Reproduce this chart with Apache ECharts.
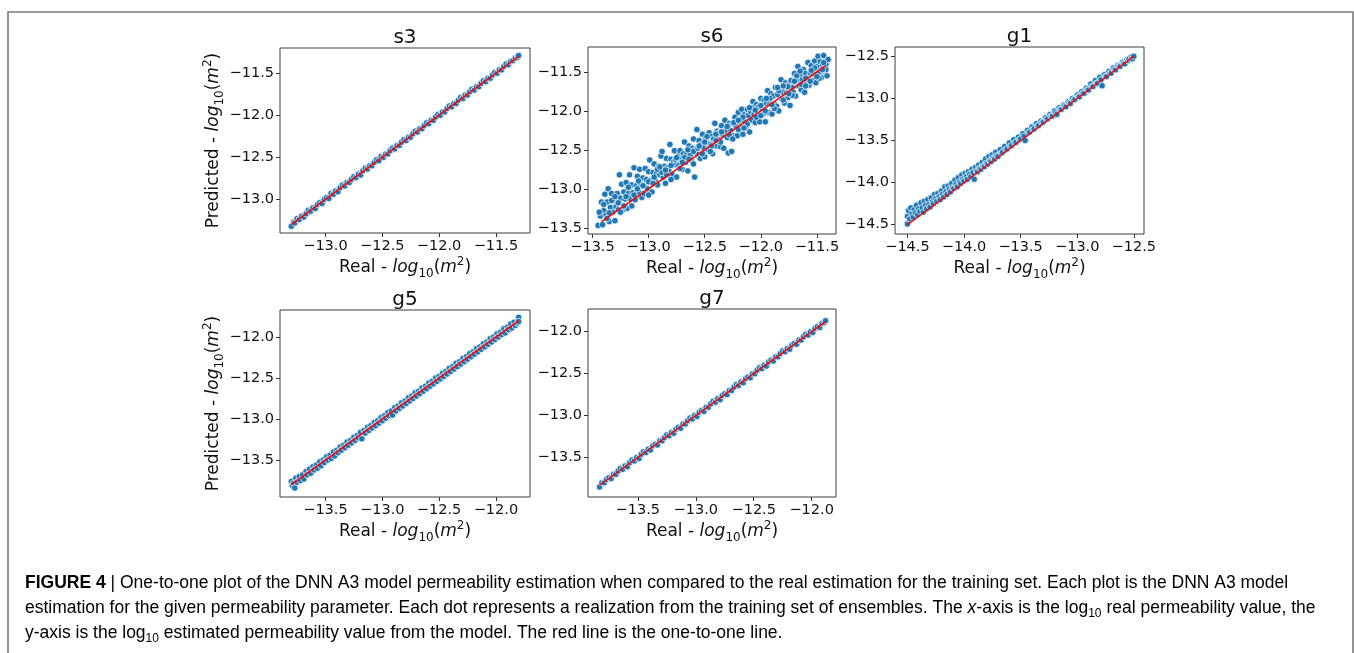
<!DOCTYPE html>
<html><head><meta charset="utf-8">
<script src="https://cdn.jsdelivr.net/npm/echarts@6/dist/echarts.min.js"></script>
<style>html,body{margin:0;padding:0;background:#fff}#c{width:1354px;height:653px}</style>
</head><body><div id="c"></div>
<script>
// ---------------- DATA ----------------
const panelNames = ['s3', 's6', 'g1', 'g5', 'g7'];

// [real, predicted] pairs, log10(m^2)
const s3Points = [[-13.30,-13.32],[-13.28,-13.27],[-13.27,-13.28],[-13.25,-13.23],[-13.23,-13.24],[-13.21,-13.20],[-13.19,-13.21],[-13.17,-13.17],[-13.15,-13.13],[-13.13,-13.14],[-13.11,-13.10],[-13.09,-13.11],[-13.07,-13.06],[-13.05,-13.04],[-13.03,-13.05],[-13.01,-13.00],[-12.99,-12.98],[-12.97,-12.99],[-12.95,-12.93],[-12.93,-12.94],[-12.91,-12.90],[-12.89,-12.91],[-12.87,-12.86],[-12.85,-12.83],[-12.83,-12.84],[-12.81,-12.80],[-12.79,-12.80],[-12.77,-12.76],[-12.75,-12.73],[-12.73,-12.74],[-12.71,-12.70],[-12.69,-12.71],[-12.67,-12.66],[-12.65,-12.63],[-12.63,-12.64],[-12.61,-12.60],[-12.59,-12.60],[-12.57,-12.56],[-12.55,-12.53],[-12.53,-12.54],[-12.51,-12.49],[-12.49,-12.50],[-12.47,-12.46],[-12.45,-12.46],[-12.43,-12.42],[-12.41,-12.39],[-12.39,-12.40],[-12.37,-12.36],[-12.35,-12.36],[-12.33,-12.32],[-12.31,-12.29],[-12.29,-12.30],[-12.27,-12.26],[-12.25,-12.26],[-12.23,-12.22],[-12.21,-12.19],[-12.19,-12.20],[-12.17,-12.16],[-12.15,-12.16],[-12.13,-12.12],[-12.11,-12.09],[-12.09,-12.10],[-12.07,-12.06],[-12.05,-12.06],[-12.03,-12.02],[-12.01,-11.99],[-11.99,-12.00],[-11.97,-11.96],[-11.95,-11.96],[-11.93,-11.92],[-11.91,-11.89],[-11.89,-11.90],[-11.87,-11.86],[-11.85,-11.86],[-11.83,-11.82],[-11.81,-11.79],[-11.79,-11.80],[-11.77,-11.76],[-11.75,-11.76],[-11.73,-11.72],[-11.71,-11.69],[-11.69,-11.70],[-11.67,-11.66],[-11.65,-11.66],[-11.63,-11.62],[-11.61,-11.59],[-11.59,-11.60],[-11.57,-11.56],[-11.55,-11.56],[-11.53,-11.52],[-11.51,-11.49],[-11.49,-11.50],[-11.47,-11.46],[-11.45,-11.46],[-11.43,-11.42],[-11.41,-11.39],[-11.39,-11.40],[-11.37,-11.36],[-11.35,-11.35],[-11.33,-11.32],[-11.31,-11.31],[-11.30,-11.29]];

const s6Points = [[-13.45,-13.47],[-13.43,-13.35],[-13.42,-13.17],[-13.41,-13.46],[-13.40,-13.28],[-13.39,-13.07],[-13.38,-13.34],[-13.37,-13.17],[-13.36,-13.00],[-13.35,-13.42],[-13.34,-13.24],[-13.33,-13.06],[-13.32,-13.30],[-13.31,-13.15],[-13.30,-13.41],[-13.29,-13.23],[-13.28,-13.06],[-13.27,-13.27],[-13.26,-12.82],[-13.25,-13.12],[-13.24,-12.94],[-13.23,-13.27],[-13.22,-13.04],[-13.21,-13.13],[-13.20,-12.92],[-13.19,-13.25],[-13.18,-13.06],[-13.17,-12.82],[-13.16,-13.13],[-13.15,-12.95],[-13.14,-13.05],[-13.13,-12.73],[-13.12,-13.14],[-13.11,-12.96],[-13.10,-12.84],[-13.09,-13.04],[-13.08,-12.75],[-13.07,-12.96],[-13.06,-13.11],[-13.05,-12.86],[-13.04,-12.97],[-13.03,-12.74],[-13.02,-12.88],[-13.01,-13.00],[-13.00,-12.78],[-12.99,-12.63],[-12.98,-12.89],[-12.97,-13.04],[-12.96,-12.79],[-12.95,-12.68],[-12.94,-12.90],[-12.93,-12.80],[-12.92,-12.95],[-12.91,-12.71],[-12.90,-12.82],[-12.89,-12.58],[-12.88,-12.52],[-12.87,-12.85],[-12.86,-12.71],[-12.85,-12.93],[-12.84,-12.61],[-12.83,-12.73],[-12.82,-12.77],[-12.81,-12.43],[-12.80,-12.62],[-12.79,-12.82],[-12.78,-12.66],[-12.77,-12.51],[-12.76,-12.69],[-12.75,-12.85],[-12.74,-12.58],[-12.73,-12.70],[-12.72,-12.51],[-12.71,-12.62],[-12.70,-12.75],[-12.69,-12.55],[-12.68,-12.40],[-12.67,-12.66],[-12.66,-12.55],[-12.65,-12.77],[-12.64,-12.45],[-12.63,-12.57],[-12.62,-12.64],[-12.61,-12.48],[-12.60,-12.36],[-12.59,-12.85],[-12.58,-12.50],[-12.57,-12.24],[-12.56,-12.56],[-12.55,-12.38],[-12.54,-12.61],[-12.53,-12.43],[-12.52,-12.30],[-12.51,-12.47],[-12.50,-12.59],[-12.49,-12.35],[-12.48,-12.41],[-12.47,-12.50],[-12.46,-12.28],[-12.45,-12.43],[-12.44,-12.33],[-12.43,-12.55],[-12.42,-12.36],[-12.41,-12.16],[-12.40,-12.45],[-12.39,-12.26],[-12.38,-12.37],[-12.37,-12.28],[-12.36,-12.46],[-12.35,-12.19],[-12.34,-12.30],[-12.33,-12.48],[-12.32,-12.12],[-12.31,-12.24],[-12.30,-12.34],[-12.29,-12.54],[-12.28,-12.16],[-12.27,-12.25],[-12.26,-12.52],[-12.25,-12.16],[-12.24,-12.32],[-12.23,-12.08],[-12.22,-12.19],[-12.21,-12.32],[-12.20,-12.02],[-12.19,-12.13],[-12.18,-12.21],[-12.17,-11.98],[-12.16,-12.30],[-12.15,-12.05],[-12.14,-12.14],[-12.13,-12.20],[-12.12,-11.98],[-12.11,-12.06],[-12.10,-12.27],[-12.09,-12.01],[-12.08,-12.12],[-12.07,-11.88],[-12.06,-12.04],[-12.05,-12.15],[-12.04,-11.92],[-12.03,-12.05],[-12.02,-11.95],[-12.01,-12.14],[-12.00,-11.84],[-11.99,-11.96],[-11.98,-12.04],[-11.97,-11.86],[-11.96,-12.14],[-11.95,-11.90],[-11.94,-11.74],[-11.93,-12.02],[-11.92,-11.91],[-11.91,-11.78],[-11.90,-12.04],[-11.89,-11.81],[-11.88,-11.91],[-11.87,-11.70],[-11.86,-11.94],[-11.85,-11.79],[-11.84,-12.00],[-11.83,-11.73],[-11.82,-11.60],[-11.81,-11.85],[-11.80,-11.76],[-11.79,-11.90],[-11.78,-11.64],[-11.77,-11.77],[-11.76,-11.83],[-11.75,-11.66],[-11.74,-11.93],[-11.73,-11.61],[-11.72,-11.70],[-11.71,-11.76],[-11.70,-11.52],[-11.69,-11.81],[-11.68,-11.62],[-11.67,-11.43],[-11.66,-11.68],[-11.65,-11.55],[-11.64,-11.73],[-11.63,-11.60],[-11.62,-11.47],[-11.61,-11.76],[-11.60,-11.52],[-11.59,-11.63],[-11.58,-11.38],[-11.57,-11.67],[-11.56,-11.51],[-11.55,-11.42],[-11.54,-11.61],[-11.53,-11.52],[-11.52,-11.36],[-11.51,-11.64],[-11.50,-11.43],[-11.49,-11.30],[-11.48,-11.51],[-11.47,-11.37],[-11.46,-11.57],[-11.45,-11.41],[-11.44,-11.29],[-11.43,-11.49],[-11.42,-11.40],[-11.41,-11.55],[-11.40,-11.34],
[-13.44,-13.30],[-13.37,-13.38],[-13.33,-13.15],[-13.27,-13.18],[-13.22,-13.22],[-13.18,-12.98],[-13.13,-13.08],[-13.09,-12.90],[-13.04,-13.06],[-13.00,-12.91],[-12.96,-12.93],[-12.92,-12.75],[-12.88,-12.79],[-12.84,-12.82],[-12.80,-12.70],[-12.76,-12.62],[-12.72,-12.74],[-12.68,-12.60],[-12.64,-12.62],[-12.60,-12.52],[-12.56,-12.48],[-12.52,-12.55],[-12.48,-12.33],[-12.44,-12.45],[-12.40,-12.30],[-12.36,-12.40],[-12.32,-12.26],[-12.28,-12.31],[-12.24,-12.15],[-12.20,-12.24],[-12.16,-12.08],[-12.12,-12.17],[-12.08,-11.96],[-12.04,-12.08],[-12.00,-11.93],[-11.96,-12.00],[-11.92,-11.84],[-11.88,-11.97],[-11.84,-11.74],[-11.80,-11.86],[-11.76,-11.69],[-11.72,-11.80],[-11.68,-11.55],[-11.64,-11.66],[-11.60,-11.58],[-11.56,-11.62],[-11.52,-11.45],[-11.48,-11.58],[-11.44,-11.38],[-11.42,-11.47],
[-13.40,-13.20],[-13.35,-13.31],[-13.30,-13.10],[-13.25,-13.30],[-13.20,-13.10],[-13.15,-13.22],[-13.10,-13.00],[-13.05,-12.96],[-13.00,-13.08],[-12.95,-12.85],[-12.90,-12.72],[-12.85,-12.76],[-12.80,-12.88],[-12.75,-12.60],[-12.70,-12.66],[-12.65,-12.50],[-12.60,-12.68],[-12.55,-12.45],[-12.50,-12.40],[-12.45,-12.52],[-12.40,-12.38],[-12.35,-12.27],[-12.30,-12.20],[-12.25,-12.36],[-12.20,-12.12],[-12.15,-12.22],[-12.10,-11.96],[-12.05,-11.99],[-12.00,-12.06],[-11.95,-11.84],[-11.90,-11.92],[-11.85,-11.70],[-11.80,-11.68],[-11.75,-11.78],[-11.70,-11.62],[-11.65,-11.49],[-11.60,-11.68],[-11.55,-11.48],[-11.50,-11.56],[-11.45,-11.47]];

const g1Points = [[-14.50,-14.49],[-14.50,-14.40],[-14.49,-14.33],[-14.48,-14.43],[-14.47,-14.30],[-14.46,-14.37],[-14.45,-14.41],[-14.44,-14.32],[-14.43,-14.36],[-14.42,-14.27],[-14.41,-14.38],[-14.40,-14.31],[-14.39,-14.34],[-14.38,-14.24],[-14.37,-14.30],[-14.36,-14.35],[-14.35,-14.22],[-14.34,-14.27],[-14.33,-14.31],[-14.32,-14.20],[-14.31,-14.26],[-14.30,-14.29],[-14.29,-14.18],[-14.28,-14.23],[-14.27,-14.25],[-14.26,-14.14],[-14.25,-14.19],[-14.24,-14.22],[-14.23,-14.13],[-14.22,-14.17],[-14.21,-14.20],[-14.20,-14.10],[-14.19,-14.14],[-14.18,-14.17],[-14.17,-14.05],[-14.16,-14.11],[-14.15,-14.14],[-14.14,-14.04],[-14.13,-14.08],[-14.12,-14.11],[-14.11,-14.01],[-14.10,-14.06],[-14.09,-14.07],[-14.08,-13.97],[-14.07,-14.02],[-14.06,-14.05],[-14.05,-13.94],[-14.04,-13.99],[-14.03,-14.01],[-14.02,-13.91],[-14.01,-13.96],[-14.00,-13.98],[-13.99,-13.89],[-13.98,-13.93],[-13.97,-13.96],[-13.96,-13.87],[-13.95,-13.90],[-13.94,-13.93],[-13.93,-13.84],[-13.92,-13.88],[-13.91,-13.96],[-13.90,-13.82],[-13.89,-13.86],[-13.88,-13.87],[-13.87,-13.79],[-13.86,-13.83],[-13.85,-13.84],[-13.84,-13.76],[-13.83,-13.80],[-13.82,-13.81],[-13.81,-13.72],[-13.80,-13.77],[-13.79,-13.78],[-13.78,-13.69],[-13.77,-13.74],[-13.76,-13.75],[-13.75,-13.67],[-13.74,-13.71],[-13.73,-13.72],[-13.72,-13.64],[-13.71,-13.68],[-13.70,-13.69],[-13.68,-13.61],[-13.67,-13.65],[-13.66,-13.64],[-13.64,-13.57],[-13.63,-13.61],[-13.62,-13.60],[-13.60,-13.53],[-13.59,-13.57],[-13.58,-13.56],[-13.56,-13.49],[-13.55,-13.53],[-13.54,-13.52],[-13.52,-13.46],[-13.51,-13.49],[-13.50,-13.48],[-13.48,-13.42],[-13.47,-13.45],[-13.46,-13.50],[-13.44,-13.38],[-13.43,-13.41],[-13.42,-13.40],[-13.40,-13.34],[-13.39,-13.37],[-13.38,-13.36],[-13.36,-13.30],[-13.35,-13.33],[-13.34,-13.32],[-13.32,-13.27],[-13.31,-13.29],[-13.30,-13.28],[-13.28,-13.23],[-13.27,-13.25],[-13.26,-13.24],[-13.24,-13.19],[-13.23,-13.21],[-13.22,-13.21],[-13.20,-13.15],[-13.19,-13.17],[-13.18,-13.19],[-13.16,-13.11],[-13.15,-13.13],[-13.14,-13.13],[-13.12,-13.08],[-13.11,-13.09],[-13.10,-13.10],[-13.08,-13.04],[-13.07,-13.05],[-13.06,-13.06],[-13.04,-13.00],[-13.03,-13.02],[-13.02,-13.01],[-13.00,-12.96],[-12.99,-12.98],[-12.98,-12.98],[-12.96,-12.92],[-12.95,-12.94],[-12.94,-12.94],[-12.92,-12.88],[-12.91,-12.90],[-12.90,-12.90],[-12.88,-12.83],[-12.87,-12.86],[-12.86,-12.86],[-12.84,-12.79],[-12.83,-12.82],[-12.82,-12.82],[-12.80,-12.75],[-12.79,-12.78],[-12.78,-12.85],[-12.76,-12.72],[-12.75,-12.74],[-12.74,-12.74],[-12.72,-12.68],[-12.71,-12.70],[-12.70,-12.70],[-12.68,-12.64],[-12.67,-12.66],[-12.66,-12.66],[-12.64,-12.61],[-12.63,-12.62],[-12.62,-12.62],[-12.60,-12.57],[-12.59,-12.58],[-12.58,-12.59],[-12.56,-12.54],[-12.55,-12.55],[-12.54,-12.53],[-12.52,-12.51],[-12.51,-12.53],[-12.50,-12.50]];

const g5Points = [[-13.80,-13.76],[-13.79,-13.81],[-13.78,-13.78],[-13.77,-13.84],[-13.76,-13.72],[-13.75,-13.77],[-13.73,-13.70],[-13.72,-13.75],[-13.70,-13.68],[-13.69,-13.73],[-13.67,-13.64],[-13.66,-13.68],[-13.64,-13.61],[-13.63,-13.66],[-13.61,-13.58],[-13.60,-13.62],[-13.58,-13.56],[-13.57,-13.60],[-13.55,-13.52],[-13.54,-13.57],[-13.52,-13.50],[-13.51,-13.53],[-13.49,-13.46],[-13.48,-13.50],[-13.46,-13.44],[-13.45,-13.48],[-13.43,-13.40],[-13.42,-13.45],[-13.40,-13.38],[-13.39,-13.41],[-13.37,-13.34],[-13.36,-13.38],[-13.34,-13.32],[-13.33,-13.35],[-13.31,-13.28],[-13.30,-13.32],[-13.28,-13.26],[-13.27,-13.29],[-13.25,-13.22],[-13.24,-13.26],[-13.22,-13.20],[-13.21,-13.23],[-13.19,-13.16],[-13.18,-13.24],[-13.16,-13.14],[-13.15,-13.17],[-13.13,-13.10],[-13.12,-13.14],[-13.10,-13.08],[-13.09,-13.11],[-13.07,-13.04],[-13.06,-13.08],[-13.04,-13.02],[-13.03,-13.05],[-13.01,-12.98],[-13.00,-13.02],[-12.98,-12.96],[-12.97,-12.99],[-12.95,-12.92],[-12.94,-12.96],[-12.92,-12.90],[-12.91,-12.95],[-12.89,-12.86],[-12.88,-12.90],[-12.86,-12.84],[-12.85,-12.87],[-12.83,-12.80],[-12.82,-12.84],[-12.80,-12.78],[-12.79,-12.81],[-12.77,-12.74],[-12.76,-12.78],[-12.74,-12.72],[-12.73,-12.75],[-12.71,-12.68],[-12.70,-12.72],[-12.68,-12.66],[-12.67,-12.69],[-12.65,-12.62],[-12.64,-12.66],[-12.62,-12.60],[-12.61,-12.63],[-12.59,-12.56],[-12.58,-12.60],[-12.56,-12.54],[-12.55,-12.57],[-12.53,-12.50],[-12.52,-12.54],[-12.50,-12.48],[-12.49,-12.51],[-12.47,-12.44],[-12.46,-12.48],[-12.44,-12.42],[-12.43,-12.45],[-12.41,-12.38],[-12.40,-12.42],[-12.38,-12.36],[-12.37,-12.39],[-12.35,-12.32],[-12.34,-12.36],[-12.32,-12.30],[-12.31,-12.33],[-12.29,-12.26],[-12.28,-12.30],[-12.26,-12.24],[-12.25,-12.27],[-12.23,-12.20],[-12.22,-12.24],[-12.20,-12.18],[-12.19,-12.21],[-12.17,-12.14],[-12.16,-12.18],[-12.14,-12.12],[-12.13,-12.15],[-12.11,-12.08],[-12.10,-12.12],[-12.08,-12.06],[-12.07,-12.09],[-12.05,-12.02],[-12.04,-12.06],[-12.02,-12.00],[-12.01,-12.03],[-11.99,-11.96],[-11.98,-12.00],[-11.96,-11.94],[-11.95,-11.97],[-11.93,-11.90],[-11.92,-11.95],[-11.90,-11.88],[-11.89,-11.91],[-11.87,-11.84],[-11.86,-11.89],[-11.84,-11.82],[-11.83,-11.86],[-11.81,-11.83],[-11.80,-11.76],[-11.80,-11.81]];

const g7Points = [[-13.83,-13.85],[-13.81,-13.80],[-13.79,-13.80],[-13.77,-13.76],[-13.75,-13.74],[-13.73,-13.75],[-13.71,-13.70],[-13.69,-13.70],[-13.67,-13.66],[-13.65,-13.63],[-13.63,-13.64],[-13.61,-13.60],[-13.59,-13.61],[-13.57,-13.56],[-13.55,-13.53],[-13.53,-13.54],[-13.51,-13.50],[-13.49,-13.51],[-13.47,-13.46],[-13.45,-13.43],[-13.43,-13.44],[-13.41,-13.40],[-13.39,-13.41],[-13.37,-13.36],[-13.35,-13.34],[-13.33,-13.35],[-13.31,-13.30],[-13.29,-13.30],[-13.27,-13.26],[-13.25,-13.23],[-13.23,-13.24],[-13.21,-13.20],[-13.19,-13.21],[-13.17,-13.16],[-13.15,-13.14],[-13.13,-13.15],[-13.11,-13.10],[-13.09,-13.10],[-13.07,-13.06],[-13.05,-13.03],[-13.03,-13.04],[-13.01,-13.00],[-12.99,-13.01],[-12.97,-12.96],[-12.95,-12.94],[-12.93,-12.95],[-12.91,-12.90],[-12.89,-12.90],[-12.87,-12.86],[-12.85,-12.83],[-12.83,-12.84],[-12.81,-12.80],[-12.79,-12.81],[-12.77,-12.76],[-12.75,-12.74],[-12.73,-12.75],[-12.71,-12.70],[-12.69,-12.70],[-12.67,-12.66],[-12.65,-12.63],[-12.63,-12.64],[-12.61,-12.60],[-12.59,-12.61],[-12.57,-12.56],[-12.55,-12.54],[-12.53,-12.55],[-12.51,-12.50],[-12.49,-12.50],[-12.47,-12.46],[-12.45,-12.43],[-12.43,-12.44],[-12.41,-12.40],[-12.39,-12.41],[-12.37,-12.36],[-12.35,-12.34],[-12.33,-12.35],[-12.31,-12.30],[-12.29,-12.30],[-12.27,-12.26],[-12.25,-12.23],[-12.23,-12.24],[-12.21,-12.20],[-12.19,-12.21],[-12.17,-12.16],[-12.15,-12.14],[-12.13,-12.15],[-12.11,-12.10],[-12.09,-12.10],[-12.07,-12.06],[-12.05,-12.03],[-12.03,-12.04],[-12.01,-12.00],[-11.99,-12.01],[-11.97,-11.96],[-11.95,-11.94],[-11.93,-11.95],[-11.91,-11.90],[-11.89,-11.89],[-11.88,-11.87]];

// one-to-one reference line end points (real min, real max)
const oneToOneEnds = { s3: [-13.30, -11.30], s6: [-13.42, -11.42], g1: [-14.50, -12.50], g5: [-13.80, -11.80], g7: [-13.83, -11.88] };

// axis limits
const xLimits = { s3: [-13.40, -11.20], s6: [-13.54, -11.33], g1: [-14.61, -12.41], g5: [-13.90, -11.70], g7: [-13.93, -11.79] };
const yLimits = { s3: [-13.40, -11.20], s6: [-13.58, -11.18], g1: [-14.61, -12.39], g5: [-13.95, -11.67], g7: [-13.97, -11.73] };

// tick labels
const xTickValues = { s3: [-13.0, -12.5, -12.0, -11.5], s6: [-13.5, -13.0, -12.5, -12.0, -11.5], g1: [-14.5, -14.0, -13.5, -13.0, -12.5], g5: [-13.5, -13.0, -12.5, -12.0], g7: [-13.5, -13.0, -12.5, -12.0] };
const yTickValues = { s3: [-13.0, -12.5, -12.0, -11.5], s6: [-13.5, -13.0, -12.5, -12.0, -11.5], g1: [-14.5, -14.0, -13.5, -13.0, -12.5], g5: [-13.5, -13.0, -12.5, -12.0], g7: [-13.5, -13.0, -12.5, -12.0] };

const pointsByPanel = { s3: s3Points, s6: s6Points, g1: g1Points, g5: g5Points, g7: g7Points };
const yNamePanels = ['s3', 'g5'];

const xAxisName = '{n|Real - }{i|log}{sub|10}{n|(}{i|m}{sup|2}{n|)}';
const yAxisName = '{n|Predicted - }{i|log}{sub|10}{n|(}{i|m}{sup|2}{n|)}';

const captionLines = [
  '{b|FIGURE 4}{r| | One-to-one plot of the DNN A3 model permeability estimation when compared to the real estimation for the training set. Each plot is the DNN A3 model}',
  '{r|estimation for the given permeability parameter. Each dot represents a realization from the training set of ensembles. The }{it|x}{r|-axis is the log}{sub|10}{r| real permeability value, the}',
  '{r|y-axis is the log}{sub|10}{r| estimated permeability value from the model. The red line is the one-to-one line.}'
];

// ---------------- LAYOUT / STYLE ----------------
const gridRects = {
  s3: { left: 280, top: 48, width: 250, height: 185 },
  s6: { left: 588, top: 47, width: 248, height: 187 },
  g1: { left: 895, top: 47, width: 249, height: 187 },
  g5: { left: 280, top: 310, width: 250, height: 187 },
  g7: { left: 588, top: 309, width: 248, height: 188 }
};
const FONT = 'DejaVu Sans';
const nameRich = {
  n: { fontFamily: FONT, fontSize: 17, color: '#111', lineHeight: 24 },
  i: { fontFamily: FONT, fontSize: 17, fontStyle: 'italic', color: '#111', lineHeight: 24 },
  sub: { fontFamily: FONT, fontSize: 12, color: '#111', verticalAlign: 'bottom', lineHeight: 12 },
  sup: { fontFamily: FONT, fontSize: 12, color: '#111', verticalAlign: 'top', lineHeight: 12 }
};
const fmt = v => (v < 0 ? '\u2212' : '') + Math.abs(v).toFixed(1);

const grids = [], xAxes = [], yAxes = [], series = [], graphics = [];
panelNames.forEach((n, i) => {
  const r = gridRects[n];
  grids.push({ left: r.left, top: r.top, width: r.width, height: r.height, show: true, borderColor: '#3c3c3c', borderWidth: 1, backgroundColor: 'transparent', containLabel: false });
  xAxes.push({
    type: 'value', gridIndex: i, min: xLimits[n][0], max: xLimits[n][1],
    axisLine: { show: false }, splitLine: { show: false },
    axisTick: { show: true, customValues: xTickValues[n], length: 4, lineStyle: { color: '#333' } },
    axisLabel: { customValues: xTickValues[n], formatter: fmt, fontFamily: FONT, fontSize: 14.5, color: '#111', margin: 6 },
    name: xAxisName, nameLocation: 'middle', nameGap: 23, nameTextStyle: { rich: nameRich }
  });
  const ya = {
    type: 'value', gridIndex: i, min: yLimits[n][0], max: yLimits[n][1],
    axisLine: { show: false }, splitLine: { show: false },
    axisTick: { show: true, customValues: yTickValues[n], length: 4, lineStyle: { color: '#333' } },
    axisLabel: { customValues: yTickValues[n], formatter: fmt, fontFamily: FONT, fontSize: 14.5, color: '#111', margin: 6 }
  };
  if (yNamePanels.includes(n)) {
    Object.assign(ya, { name: yAxisName, nameLocation: 'middle', nameGap: 48, nameRotate: 90, nameTextStyle: { rich: nameRich } });
  }
  yAxes.push(ya);
  series.push({
    type: 'scatter', xAxisIndex: i, yAxisIndex: i, data: pointsByPanel[n], symbolSize: 6.5,
    itemStyle: { color: '#1f77b4', borderColor: '#ffffff', borderWidth: 0.7, opacity: 1 }, silent: true, z: 2
  });
  const e = oneToOneEnds[n];
  series.push({
    type: 'line', xAxisIndex: i, yAxisIndex: i, data: [[e[0], e[0]], [e[1], e[1]]], symbol: 'none',
    lineStyle: { color: '#ff0000', width: 1.5 }, silent: true, z: 3
  });
  graphics.push({
    type: 'text', x: r.left + r.width / 2, y: r.top - 10,
    style: { text: n, fontFamily: FONT, fontSize: 20, fill: '#111', textAlign: 'center', textVerticalAlign: 'middle' }
  });
});

// figure frame
graphics.push({ type: 'rect', shape: { x: 8, y: 12, width: 1345, height: 700 }, style: { fill: 'none', stroke: '#7a7a7a', lineWidth: 1.6 } });

const CAPF = 'Liberation Sans';
const capRich = {
  r: { fontFamily: CAPF, fontSize: 17.5, color: '#1e1c1d', lineHeight: 24 },
  b: { fontFamily: CAPF, fontSize: 17.5, fontWeight: 'bold', color: '#1e1c1d', lineHeight: 24 },
  it: { fontFamily: CAPF, fontSize: 17.5, fontStyle: 'italic', color: '#1e1c1d', lineHeight: 24 },
  sub: { fontFamily: CAPF, fontSize: 12, color: '#1e1c1d', verticalAlign: 'bottom', lineHeight: 12 }
};
const capY = [583, 608, 633];
captionLines.forEach((t, k) => {
  graphics.push({ type: 'text', x: 25, y: capY[k], style: { text: t, rich: capRich, textAlign: 'left', textVerticalAlign: 'middle' } });
});

const chart = echarts.init(document.getElementById('c'), null, { renderer: 'canvas' });
chart.setOption({
  animation: false,
  backgroundColor: '#ffffff',
  grid: grids, xAxis: xAxes, yAxis: yAxes, series: series, graphic: graphics
});
</script></body></html>
